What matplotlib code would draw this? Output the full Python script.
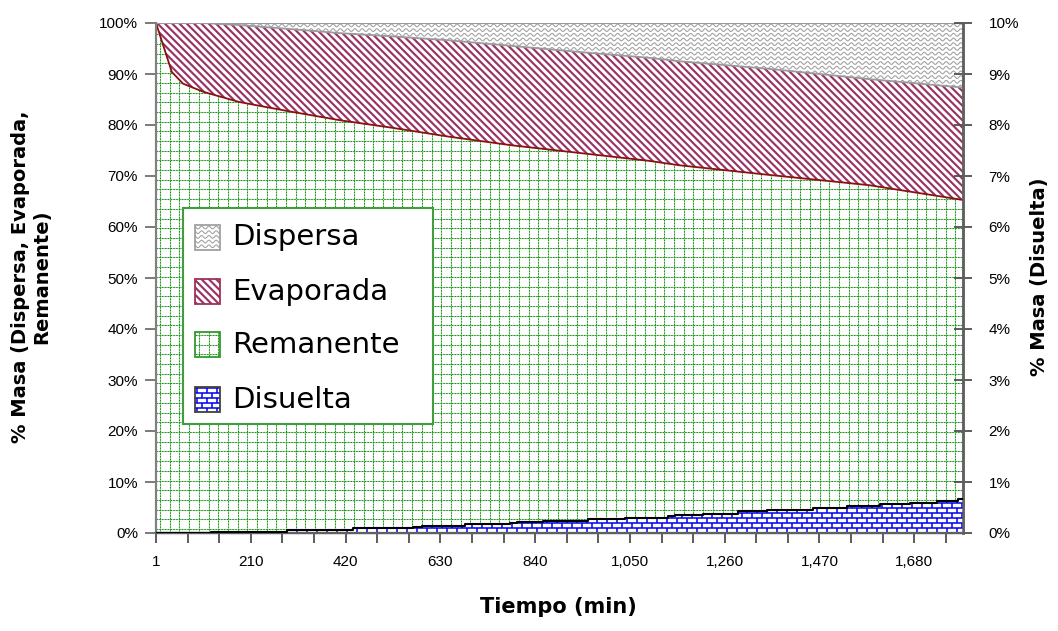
import numpy as np
import matplotlib
matplotlib.use("Agg")
import matplotlib.pyplot as plt
from matplotlib.collections import LineCollection
from matplotlib.patches import Rectangle
from matplotlib.ticker import PercentFormatter

# --- data (tiempo in min, masa in %) ---
tiempo = [0, 35, 60, 105, 185, 300, 410, 520, 650, 790, 940, 1090, 1160, 1360, 1580, 1788]
remanente = [100, 90.4, 88.1, 86.5, 84.5, 82.6, 80.9, 79.5, 77.7, 76.0, 74.5, 73.0, 72.1, 70.2, 68.2, 65.3]
evaporada = [0, 9.6, 11.9, 13.5, 15.1, 16.2, 17.1, 17.9, 18.9, 19.5, 19.8, 20.2, 20.4, 20.8, 20.8, 22.05]
dispersa = [0, 0, 0, 0, 0.4, 1.2, 2.0, 2.6, 3.4, 4.5, 5.7, 6.8, 7.5, 9.0, 11.0, 12.65]

# disuelta (right axis), step values
tiempo_dis = [0, 122, 290, 308, 436, 569, 589, 685, 784, 800, 857, 957, 1039, 1134, 1150,
              1212, 1289, 1354, 1455, 1531, 1604, 1670, 1730, 1777, 1788]
disuelta = [0, 0.01, 0.05, 0.065, 0.09, 0.12, 0.14, 0.17, 0.20, 0.21, 0.24, 0.27, 0.30, 0.33, 0.35,
            0.38, 0.43, 0.46, 0.49, 0.52, 0.57, 0.59, 0.63, 0.67, 0.67]

xtick_pos = list(range(0, 1751, 70))
xtick_lab = {0: "1", 210: "210", 420: "420", 630: "630", 840: "840",
             1050: "1,050", 1260: "1,260", 1470: "1,470", 1680: "1,680"}
series_names = ["Dispersa", "Evaporada", "Remanente", "Disuelta"]

GRAY = "#9a9a9a"
PLUM = "#993366"
GREEN = "#1a961a"
LIGHT_GREEN = "#a6d9a6"
BLUE = "#0000ee"


def texture(axes, kind, clip, clip_tr=None, z=2):
    # pattern drawn in pixel units (pixel-centred), clipped to a shape
    W, H = axes.bbox.width, axes.bbox.height
    segs = []
    styles = []
    if kind == "grid":
        for x in np.round(np.arange(3, W, 9.7)) + 0.5:
            segs.append(np.array([[x, 0], [x, H]]))
        for y in np.round(np.arange(4, H, 9.7)) + 0.5:
            segs.append(np.array([[0, y], [W, y]]))
        styles = [dict(colors=LIGHT_GREEN, linewidths=0.75),
                  dict(colors=GREEN, linewidths=0.75, linestyles=(0, (1.4, 1.3)))]
    elif kind == "stripes":
        for c in np.arange(0, W + H, 7.3):
            segs.append(np.array([[c, 0], [c - H, H]]))
        styles = [dict(colors=PLUM, linewidths=1.55)]
    elif kind == "waves":
        xs = np.arange(0, W, 0.7)
        for y0 in np.arange(0, H, 4.7):
            segs.append(np.column_stack([xs, y0 + 1.4 * np.sin(2 * np.pi * xs / 7.3)]))
        styles = [dict(colors="#a3a3a3", linewidths=0.8)]
    else:  # bricks
        for k, y in enumerate(np.arange(0.5, H, 5.0)):
            segs.append(np.array([[0, y], [W, y]]))
            for x in np.arange(5 * (k % 2), W, 10) + 0.5:
                segs.append(np.array([[x, y], [x, y + 5]]))
        styles = [dict(colors=BLUE, linewidths=1.1)]
    segs = [np.column_stack([s[:, 0] / W, s[:, 1] / H]) for s in segs]
    for kw in styles:
        lc = LineCollection(segs, transform=axes.transAxes, zorder=z, **kw)
        axes.add_collection(lc, autolim=False)
        if clip_tr is None:
            lc.set_clip_path(clip)
        else:
            lc.set_clip_path(clip, clip_tr)


fig = plt.figure(figsize=(10.58, 6.31), dpi=100)
ax = fig.add_axes([156 / 1058, 98 / 631, 807 / 1058, 510 / 631])
ax2 = ax.twinx()

t = np.array(tiempo)
rem = np.array(remanente)
top_evap = rem + np.array(evaporada)
top_disp = top_evap + np.array(dispersa)

f_rem = ax.fill_between(t, 0, rem, facecolor="white", edgecolor="none", zorder=1)
f_eva = ax.fill_between(t, rem, top_evap, facecolor="white", edgecolor="none", zorder=1)
f_dis = ax.fill_between(t, top_evap, top_disp, facecolor="white", edgecolor="none", zorder=1)
texture(ax, "grid", f_rem.get_paths()[0], ax.transData)
texture(ax, "stripes", f_eva.get_paths()[0], ax.transData)
texture(ax, "waves", f_dis.get_paths()[0], ax.transData)
ax.plot(t, rem, color="#8b1010", lw=1.3, zorder=4)
ax.plot(t, top_evap, color=GRAY, lw=1.3, zorder=4)
ax.plot(t, top_disp, color=GRAY, lw=1.5, zorder=4)

f_sol = ax2.fill_between(tiempo_dis, 0, disuelta, step="post", facecolor="white",
                         edgecolor="none", zorder=1)
texture(ax2, "bricks", f_sol.get_paths()[0], ax2.transData)
ax2.step(tiempo_dis, disuelta, where="post", color="black", lw=1.5, zorder=4)

ax.set_xlim(0, 1788)
ax.set_ylim(0, 100)
ax2.set_ylim(0, 10)
ax.set_yticks(np.arange(0, 101, 10))
ax2.set_yticks(np.arange(0, 11, 1))
ax.yaxis.set_major_formatter(PercentFormatter(decimals=0))
ax2.yaxis.set_major_formatter(PercentFormatter(decimals=0))
ax.set_xticks(xtick_pos)
ax.set_xticklabels([xtick_lab.get(p, "") for p in xtick_pos])

for lab in ax.get_xticklabels() + ax.get_yticklabels() + ax2.get_yticklabels():
    lab.set_fontfamily("Liberation Sans")
    lab.set_fontsize(11)
ax.tick_params(axis="y", direction="out", length=8, width=1.3, color="#707070", pad=5)
ax.tick_params(axis="x", direction="out", length=7, width=1.3, color="#505050", pad=9)
ax2.tick_params(axis="y", direction="inout", length=13, width=1.3, color="#505050", pad=12)

for a in (ax, ax2):
    a.spines["left"].set_color("#808080")
    a.spines["left"].set_linewidth(1.5)
    a.spines["bottom"].set_color("#606060")
    a.spines["bottom"].set_linewidth(1.6)
    a.spines["right"].set_color("#606060")
    a.spines["right"].set_linewidth(1.8)
    a.spines["top"].set_visible(False)

# legend drawn by hand so the swatches carry the same textures
box = Rectangle((0.0335, 0.214), 0.3095, 0.423, transform=ax2.transAxes,
                facecolor="white", edgecolor="#3f9f3f", lw=1.5, zorder=10)
ax2.add_patch(box)
sw_y = [0.580, 0.4727, 0.3689, 0.261]
sw_kind = ["waves", "stripes", "grid", "bricks"]
sw_edge = ["#a0a0a0", "#a03050", "#2f9a2f", "#404040"]
for name, yc, kind, ec in zip(series_names, sw_y, sw_kind, sw_edge):
    sw = Rectangle((0.0483, yc - 0.0245), 0.031, 0.049, transform=ax2.transAxes,
                   facecolor="white", edgecolor="none", zorder=11)
    ax2.add_patch(sw)
    texture(ax2, kind, sw, z=12)
    ax2.add_patch(Rectangle((0.0483, yc - 0.0245), 0.031, 0.049, transform=ax2.transAxes,
                            facecolor="none", edgecolor=ec, lw=1.3, zorder=13))
    ax2.text(0.094, yc, name, transform=ax2.transAxes, ha="left", va="center",
             fontsize=21, family="DejaVu Sans", zorder=14)

fig.text(31 / 1058, 1 - 277 / 631, "% Masa (Dispersa, Evaporada,\nRemanente)", rotation=90,
         ha="center", va="center", multialignment="center", fontsize=14, fontweight="bold",
         family="DejaVu Sans", linespacing=1.15)
fig.text(1040 / 1058, 1 - 277 / 631, "% Masa (Disuelta)", rotation=90, ha="center", va="center",
         fontsize=14, fontweight="bold", family="DejaVu Sans")
fig.text(558 / 1058, 1 - 607 / 631, "Tiempo (min)", ha="center", va="center",
         fontsize=15, fontweight="bold", family="DejaVu Sans")

fig.savefig("out.png", dpi=100)
